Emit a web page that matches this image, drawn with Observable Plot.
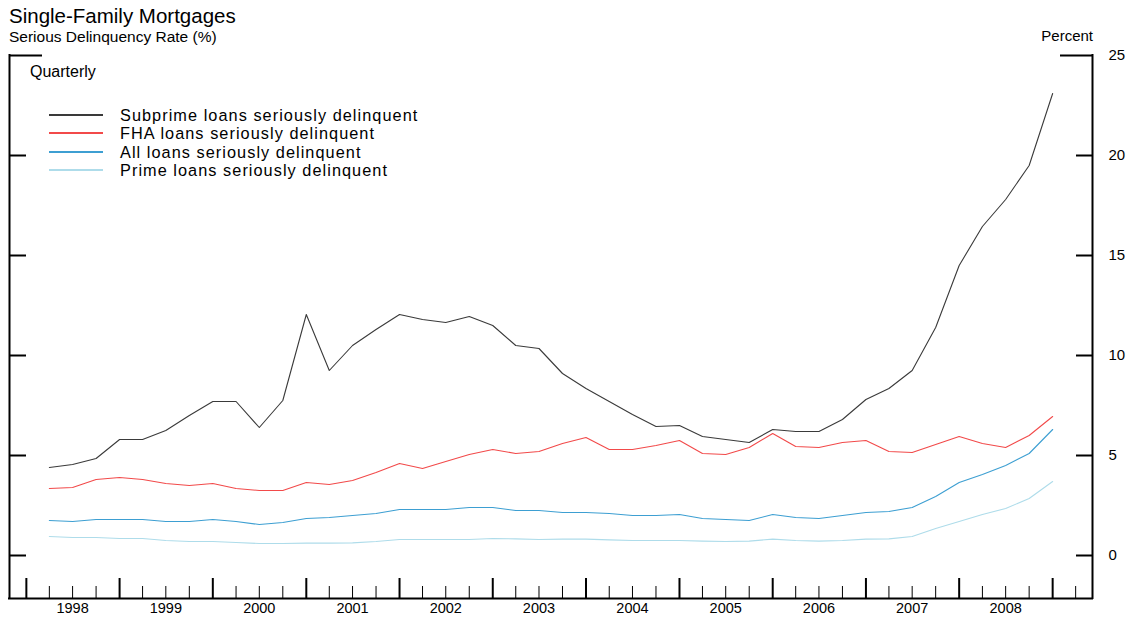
<!DOCTYPE html>
<html><head><meta charset="utf-8">
<script src="https://cdn.jsdelivr.net/npm/d3@7"></script>
<script src="https://cdn.jsdelivr.net/npm/@observablehq/plot@0.6"></script>
<style>
body{margin:0;background:#fff;font-family:"Liberation Sans",Arial,sans-serif;color:#000}
#wrap{position:relative;width:1128px;height:621px;overflow:hidden;background:#fff}
.t{position:absolute;line-height:1;white-space:nowrap}
#lgtext{position:absolute;left:120px;white-space:nowrap;font-size:16.3px;line-height:18.25px;letter-spacing:1.05px}
.ln{position:absolute;left:49px;width:54px;height:2px}
#chart{position:absolute;left:0;top:46px}
</style></head><body>
<div id="wrap">
<div id="chart"></div>
<div class="t" style="left:9px;top:5.6px;font-size:20.5px">Single-Family Mortgages</div>
<div class="t" style="left:9px;top:28.6px;font-size:15.5px">Serious Delinquency Rate (%)</div>
<div class="t" style="right:35px;top:28.3px;font-size:15px">Percent</div>
<div class="t" style="left:30px;top:64.2px;font-size:16px">Quarterly</div>
<div id="legend"></div>
</div>
<script>
const quarters = ["1998Q1","1998Q2","1998Q3","1998Q4","1999Q1","1999Q2","1999Q3","1999Q4",
"2000Q1","2000Q2","2000Q3","2000Q4","2001Q1","2001Q2","2001Q3","2001Q4",
"2002Q1","2002Q2","2002Q3","2002Q4","2003Q1","2003Q2","2003Q3","2003Q4",
"2004Q1","2004Q2","2004Q3","2004Q4","2005Q1","2005Q2","2005Q3","2005Q4",
"2006Q1","2006Q2","2006Q3","2006Q4","2007Q1","2007Q2","2007Q3","2007Q4",
"2008Q1","2008Q2","2008Q3","2008Q4"];
const subprime = [4.4,4.55,4.85,5.8,5.8,6.25,7.0,7.7,7.7,6.4,7.75,12.05,9.25,10.5,11.3,12.05,11.8,11.65,11.95,11.5,10.5,10.35,9.1,8.35,7.7,7.05,6.45,6.5,5.95,5.8,5.65,6.3,6.2,6.2,6.8,7.8,8.35,9.25,11.4,14.5,16.45,17.8,19.5,23.1];
const fha = [3.35,3.4,3.8,3.9,3.8,3.6,3.5,3.6,3.35,3.25,3.25,3.65,3.55,3.75,4.15,4.6,4.35,4.7,5.05,5.3,5.1,5.2,5.6,5.9,5.3,5.3,5.5,5.75,5.1,5.05,5.4,6.1,5.45,5.4,5.65,5.75,5.2,5.15,5.55,5.95,5.6,5.4,6.0,6.95];
const allLoans = [1.75,1.7,1.8,1.8,1.8,1.7,1.7,1.8,1.7,1.55,1.65,1.85,1.9,2.0,2.1,2.3,2.3,2.3,2.4,2.4,2.25,2.25,2.15,2.15,2.1,2.0,2.0,2.05,1.85,1.8,1.75,2.05,1.9,1.85,2.0,2.15,2.2,2.4,2.95,3.65,4.05,4.5,5.1,6.3];
const prime = [0.95,0.9,0.9,0.85,0.85,0.75,0.7,0.7,0.65,0.6,0.6,0.62,0.62,0.63,0.7,0.8,0.8,0.8,0.8,0.85,0.83,0.8,0.82,0.82,0.78,0.75,0.75,0.75,0.72,0.7,0.72,0.82,0.75,0.72,0.75,0.82,0.83,0.95,1.35,1.7,2.05,2.35,2.85,3.7];
const seriesNames = ["Subprime loans seriously delinquent","FHA loans seriously delinquent","All loans seriously delinquent","Prime loans seriously delinquent"];
const seriesColors = ["#3a3a3a","#f24a4a","#3d9fd2","#aedcea"];
const seriesValues = [subprime, fha, allLoans, prime];
const years = [1998,1999,2000,2001,2002,2003,2004,2005,2006,2007,2008];
const yTicks = [0,5,10,15,20,25];

const utc = (y,m,d) => new Date(Date.UTC(y,m,d));
const qEnd = s => utc(+s.slice(0,4), +s.slice(5)*3, 1);
const xStart = utc(1997,9,27), xEnd = utc(2009,5,6);
const yMin = -2.15;
const yearStarts = years.map(y => utc(y,0,1)).concat([utc(2009,0,1)]);
const quarterTicks = years.flatMap(y => [utc(y,3,1),utc(y,6,1),utc(y,9,1)]).concat([utc(2009,3,1)]);
const yearMids = years.map(y => utc(y,6,1));

const rows = [];
for (let s = seriesNames.length - 1; s >= 0; s--) {
  quarters.forEach((q,i) => rows.push({date:qEnd(q), value:seriesValues[s][i], key:seriesNames[s]}));
}

const chart = Plot.plot({
  width:1128, height:575, marginTop:9, marginBottom:23, marginLeft:9, marginRight:36,
  style:{fontFamily:"'Liberation Sans', Arial, sans-serif", fontSize:"14.5px", background:"#fff", color:"#000"},
  x:{type:"utc", domain:[xStart,xEnd]},
  y:{domain:[yMin,25]},
  color:{domain:seriesNames, range:seriesColors},
  marks:[
    Plot.line(rows,{x:"date",y:"value",z:"key",stroke:"key",strokeWidth:1.1}),
    Plot.ruleX([xStart,xEnd],{stroke:"#000",strokeWidth:2,strokeLinecap:"square"}),
    Plot.ruleY([yMin],{stroke:"#000",strokeWidth:2,strokeLinecap:"square"}),
    Plot.axisY({anchor:"left",ticks:[0,5,10,15,20],tickSize:-17,strokeWidth:2,fill:"none",label:null}),
    Plot.axisY({anchor:"left",ticks:[25],tickSize:-33,strokeWidth:2,fill:"none",label:null}),
    Plot.axisY({anchor:"right",ticks:[0,5,10,15,20],tickSize:-17,strokeWidth:2,fill:"none",label:null}),
    Plot.axisY({anchor:"right",ticks:[25],tickSize:-33,strokeWidth:2,fill:"none",label:null}),
    Plot.axisY({anchor:"right",ticks:yTicks,tickSize:0,tickPadding:16,label:null,fontSize:15}),
    Plot.axisX({ticks:yearStarts,tickSize:-20,strokeWidth:2,fill:"none",label:null}),
    Plot.axisX({ticks:quarterTicks,tickSize:-12,strokeWidth:1,fill:"none",label:null}),
    Plot.axisX({ticks:yearMids,tickSize:0,tickPadding:4,tickFormat:"%Y",label:null})
  ]
});
document.getElementById("chart").appendChild(chart);

const legend = document.getElementById("legend");
const fs = 16.3, lh = 18.25, firstBaseline = 121;
seriesNames.forEach((name,i) => {
  const ln = document.createElement("div");
  ln.className = "ln";
  ln.style.top = Math.round(firstBaseline + i*lh - 7)+"px";
  ln.style.background = seriesColors[i];
  legend.appendChild(ln);
});
const lt = document.createElement("div");
lt.id = "lgtext";
lt.style.top = (firstBaseline - ((lh - 1.117*fs)/2 + 0.905*fs))+"px";
seriesNames.forEach((name,i) => {
  if (i) lt.appendChild(document.createElement("br"));
  lt.appendChild(document.createTextNode(name));
});
legend.appendChild(lt);
</script>
</body></html>
